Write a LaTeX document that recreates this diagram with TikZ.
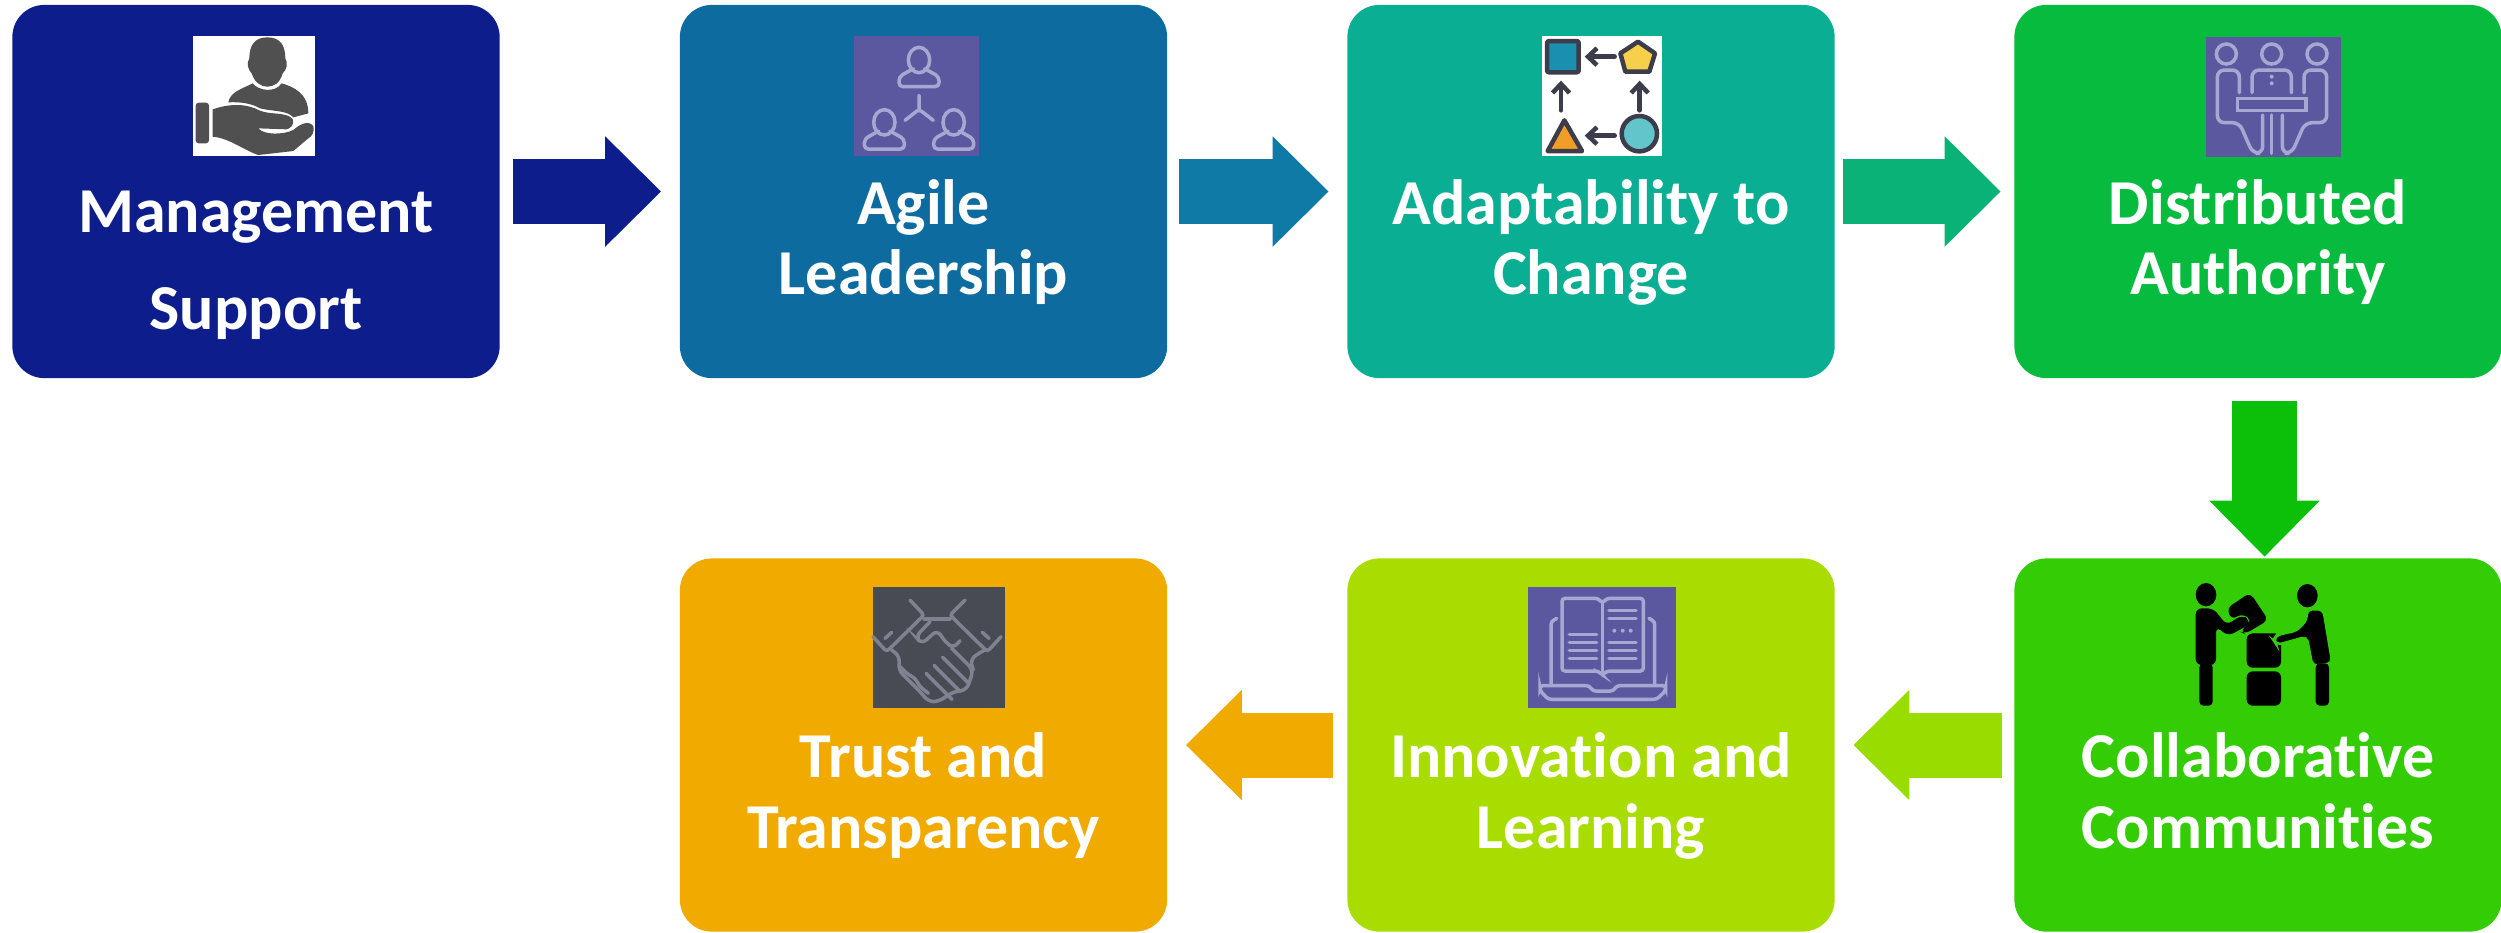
\documentclass[tikz,border=0pt]{standalone}
\usepackage{fontspec}
\setmainfont{Carlito}[RawFeature={-liga}]
\usetikzlibrary{arrows.meta}

\definecolor{boxnavy}{HTML}{0D1D8C}
\definecolor{boxblue}{HTML}{0D6BA0}
\definecolor{boxteal}{HTML}{0AAE93}
\definecolor{boxgreen}{HTML}{07BB3F}
\definecolor{boxlime}{HTML}{33CC05}
\definecolor{boxyellow}{HTML}{A9DC00}
\definecolor{boxorange}{HTML}{F0AA00}
\definecolor{arrowblue}{HTML}{0F7AA5}
\definecolor{arrowteal}{HTML}{0AB278}
\definecolor{arrowgreen}{HTML}{0CC00A}
\definecolor{arrowyellow}{HTML}{98DC00}
\definecolor{iconpurple}{HTML}{5C58A0}
\definecolor{iconline}{HTML}{A6A8D2}
\definecolor{icongrey}{HTML}{505050}
\definecolor{icondark}{HTML}{3C3C4A}
\definecolor{shapeblue}{HTML}{1A8FB0}
\definecolor{shapeyellow}{HTML}{F7CF4A}
\definecolor{shapeorange}{HTML}{F09E28}
\definecolor{shapecyan}{HTML}{62C5CC}
\definecolor{shakebg}{HTML}{484B54}
\definecolor{shakeline}{HTML}{80838F}

\tikzset{
    stagebox/.style={rounded corners=0.32cm, minimum width=4.87cm, minimum height=3.73cm, inner sep=0pt},
    stagetext/.style={text=white, font=\fontsize{18.2}{20}\selectfont\bfseries, align=center, inner sep=0pt},
    flowarrow/.style={line width=0.65cm, -{Triangle[length=0.56cm, width=1.07cm]}},
    iconstroke/.style={draw=iconline, line width=0.035cm, rounded corners=0.03cm, line cap=round},
    darkstroke/.style={draw=icondark, line width=0.045cm, line cap=round, line join=round},
    darktip/.style={darkstroke, -{Straight Barb[length=0.09cm, width=0.17cm]}},
}

% one outlined person, zoom units
\newcommand{\teamperson}{
    \draw[iconstroke] (0,-40) ellipse (0.32cm and 0.38cm);
    \draw[iconstroke, rounded corners=0.04cm] (-17,-14) -- (-60,10) -- (-60,40) -- (60,40) -- (60,10) -- (17,-14);
}

\begin{document}
\begin{tikzpicture}[x=0.01cm, y=-0.01cm]
    \useasboundingbox (0,0) rectangle (2501,932);

    % Boxes
    \foreach \id/\x/\y/\col in {ms/256/191.5/boxnavy, al/923.5/191.5/boxblue, ac/1591/191.5/boxteal, da/2258/191.5/boxgreen, cc/2258/745/boxlime, il/1591/745/boxyellow, tt/923.5/745/boxorange} {
        \node[stagebox, fill=\col] (\id) at (\x, \y) {};
    }

    % Labels
    \node[stagetext] (mslabel) at (256, 265) {Management\\[0.27cm]Support};
    \foreach \id/\x/\y/\txt in {allabel/923.5/245.5/{Agile\\Leadership}, aclabel/1591/245.5/{Adaptability to\\Change}, dalabel/2258/245.5/{Distributed\\Authority}, cclabel/2258/799/{Collaborative\\Communities}, illabel/1591/799/{Innovation and\\Learning}, ttlabel/923.5/799/{Trust and\\Transparency}} {
        \node[stagetext] (\id) at (\x, \y) {\strut\txt\strut};
    }

    % Arrows
    \draw[flowarrow, boxnavy, shorten <=0.13cm, shorten >=0.18cm] (ms) -- (al);
    \draw[flowarrow, arrowblue, shorten <=0.11cm, shorten >=0.18cm] (al) -- (ac);
    \draw[flowarrow, arrowteal, shorten <=0.08cm, shorten >=0.13cm] (ac) -- (da);
    \draw[flowarrow, arrowgreen, shorten <=0.22cm, shorten >=0.01cm] ([xshift=0.065cm]da.south) -- ([xshift=0.065cm]cc.north);
    \draw[flowarrow, arrowyellow, shorten <=0.12cm, shorten >=0.18cm] (cc) -- (il);
    \draw[flowarrow, boxorange, shorten <=0.14cm, shorten >=0.18cm] (il) -- (tt);

    % Management icon
    \begin{scope}[shift={(180,20)}, scale=1/3]
        \fill[white] (39,48) rectangle (405,408);
        \fill[icongrey] (262,52) .. controls (225,52) and (208,75) .. (208,115) .. controls (198,130) and (205,150) .. (215,160) .. controls (225,190) and (245,200) .. (262,200) .. controls (280,200) and (300,190) .. (308,160) .. controls (320,150) and (325,130) .. (316,115) .. controls (316,75) and (300,52) .. (262,52) -- cycle;
        \fill[icongrey] (218,190) .. controls (235,212) and (285,220) .. (305,190) .. controls (340,200) and (385,220) .. (385,280) -- (340,292) .. controls (320,270) and (280,275) .. (240,265) .. controls (215,250) and (180,245) .. (145,247) .. controls (150,215) and (190,205) .. (218,190) -- cycle;
        \fill[icongrey, rounded corners=0.03cm] (47,248) rectangle (87,370);
        \fill[icongrey] (98,268) .. controls (150,250) and (200,250) .. (240,272) .. controls (270,285) and (320,275) .. (338,297) .. controls (345,315) and (330,325) .. (320,328) -- (235,325) .. controls (250,345) and (310,345) .. (340,330) .. controls (360,312) and (385,300) .. (400,318) .. controls (405,335) and (395,350) .. (385,355) -- (340,393) -- (235,405) .. controls (190,390) and (150,355) .. (98,350) -- cycle;
    \end{scope}

    % Agile icon
    \begin{scope}[shift={(800,20)}, scale=1/3]
        \fill[iconpurple] (162,48) rectangle (537,407);
        \begin{scope}[shift={(357,160)}] \teamperson \end{scope}
        \begin{scope}[shift={(253,347)}] \teamperson \end{scope}
        \begin{scope}[shift={(461,347)}] \teamperson \end{scope}
        \draw[iconstroke] (357,226) -- (357,268) (315,301) -- (357,268) -- (400,301);
    \end{scope}

    % Adaptability icon
    \begin{scope}[shift={(1520,20)}, scale=1/3]
        \fill[white] (67,48) rectangle (425,407);
        \draw[darkstroke, fill=shapeblue, rounded corners=0.02cm] (81,63) rectangle (176,157);
        \draw[darkstroke, fill=shapeyellow] (354,65) -- (405,100) -- (388,155) -- (316,155) -- (301,100) -- cycle;
        \draw[darkstroke, fill=shapeorange] (133,301) -- (186,393) -- (83,393) -- cycle;
        \draw[darkstroke, fill=shapecyan] (358,341) circle (0.53cm);
        \draw[darktip] (284,110) -- (194,110);
        \draw[darktip] (284,347) -- (194,347);
        \draw[darktip] (123,271) -- (123,182);
        \draw[darktip] (359,271) -- (359,182);
    \end{scope}

    % Authority icon
    \begin{scope}[shift={(2180,20)}, scale=1/3]
        \fill[iconpurple] (78,52) rectangle (483,411);
        \foreach \x/\y in {139/102, 275/102, 411/102} {
            \draw[iconstroke] (\x,\y) circle (0.3cm);
        }
        \draw[iconstroke, rounded corners=0.07cm] (178,218) -- (178,150) -- (112,150) -- (112,308) -- (178,308) -- (218,400) -- (248,400) -- (248,285);
        \draw[iconstroke, rounded corners=0.07cm] (372,218) -- (372,150) -- (440,150) -- (440,308) -- (375,308) -- (335,400) -- (307,400) -- (307,285);
        \draw[iconstroke, rounded corners=0.07cm] (216,218) -- (216,150) -- (334,150) -- (334,218);
        \draw[iconstroke, rounded corners=0pt] (172,235) rectangle (378,271);
        \draw[iconstroke] (275,285) -- (275,400);
        \foreach \y in {170, 190} {
            \fill[iconline] (275,\y) circle (0.06cm);
        }
    \end{scope}

    % Collaboration icon
    \begin{scope}[shift={(2160,570)}, scale=1/3]
        \fill[black] (138,74) ellipse (0.31cm and 0.35cm);
        \fill[black] (442,77) ellipse (0.31cm and 0.35cm);
        \fill[black, rounded corners=0.06cm] (107,285) -- (107,115) -- (160,115) -- (200,165) -- (245,135) -- (270,150) -- (265,165) -- (205,198) -- (168,170) -- (168,285) -- cycle;
        \fill[black, rounded corners=0.04cm] (118,280) rectangle (158,407);
        \fill[black, rounded corners=0.06cm] (200,115) -- (270,68) -- (325,150) -- (255,192) -- (240,185) -- (275,150) -- (245,130) -- (215,150) -- cycle;
        \fill[black, rounded corners=0.06cm] (260,190) rectangle (363,293);
        \fill[black, rounded corners=0.06cm] (260,304) rectangle (363,407);
        \draw[boxlime, line width=0.025cm, fill=black, rounded corners=0.05cm] (350,195) -- (410,182) -- (440,150) -- (440,118) -- (490,118) -- (517,280) -- (457,288) -- (440,200) -- (350,225) -- (340,210) -- cycle;
        \fill[black, rounded corners=0.04cm] (467,280) rectangle (507,407);
    \end{scope}

    % Learning icon
    \begin{scope}[shift={(1500,570)}, scale=1/3]
        \fill[iconpurple] (84,52) rectangle (527,413);
        \draw[iconstroke] (307,100) -- (295,85) -- (186,85) -- (186,303) -- (295,303) -- (307,316) -- (320,303) -- (430,303) -- (430,85) -- (320,85) -- cycle;
        \draw[iconstroke] (307,100) -- (307,316);
        \draw[iconstroke] (170,145) -- (153,155) -- (153,345);
        \draw[iconstroke] (447,145) -- (464,155) -- (464,345);
        \draw[iconstroke] (120,347) -- (268,347) -- (278,363) -- (340,363) -- (350,347) -- (497,347) -- (497,362) -- (470,388) -- (145,388) -- (120,362) -- cycle;
        \foreach \y in {194, 218, 242, 266} {
            \draw[iconstroke] (208,\y) -- (290,\y);
        }
        \foreach \y in {122, 146, 218, 242, 266} {
            \draw[iconstroke] (327,\y) -- (408,\y);
        }
        \foreach \x in {343, 368, 392} {
            \fill[iconline] (\x,182) circle (0.06cm);
        }
    \end{scope}

    % Trust icon
    \begin{scope}[shift={(850,570)}, scale=1/3]
        \fill[shakebg] (69,51) rectangle (464,413);
        \tikzset{iconstroke/.append style={draw=shakeline}}
        \draw[iconstroke] (180,90) -- (222,135) -- (110,245) -- (69,200);
        \draw[iconstroke] (345,90) -- (300,135) -- (412,245) -- (453,200);
        \draw[iconstroke] (105,205) -- (125,187);
        \draw[iconstroke] (397,187) -- (417,205);
        \draw[iconstroke] (222,147) -- (300,147);
        \draw[iconstroke, rounded corners=0.06cm] (240,155) -- (197,200) -- (215,222) -- (262,180) -- (285,215) -- (310,235) -- (330,212);
        \draw[iconstroke, rounded corners=0.06cm] (305,235) -- (370,300) -- (350,360) -- (310,365) -- (265,395) -- (235,395) -- (215,370) -- (190,345) -- (145,300) -- (150,260) -- (125,240);
        \draw[iconstroke, rounded corners=0.06cm] (370,300) -- (360,270) -- (385,250) -- (405,240);
        \foreach \a/\b in {278/262, 252/286, 228/310} {
            \draw[iconstroke] (\a,\b) -- ++(78,78);
        }
        \draw[iconstroke] (150,290) -- (170,310) -- (195,325) -- (210,350) -- (235,370);
    \end{scope}
\end{tikzpicture}
\end{document}
